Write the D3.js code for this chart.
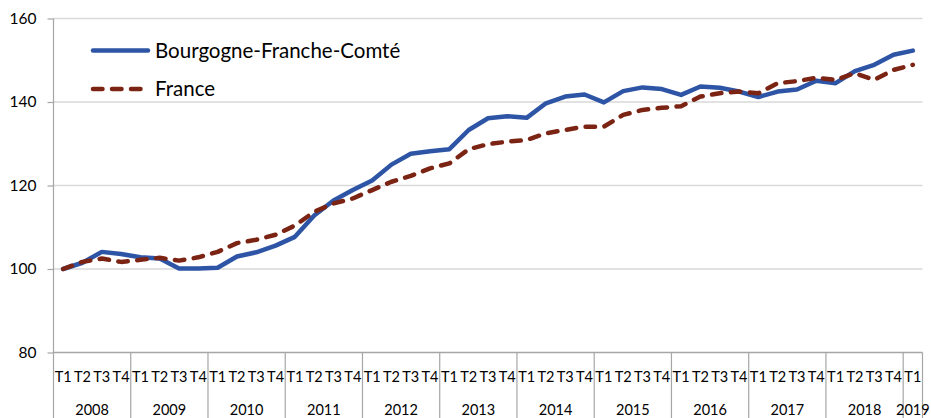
<!DOCTYPE html>
<html>
<head>
<meta charset="utf-8">
<script src="https://cdn.jsdelivr.net/npm/d3@7"></script>
<style>
  html, body { margin: 0; padding: 0; background: #fff; }
  svg { display: block; font-family: Lato, "Liberation Sans", sans-serif; }
</style>
</head>
<body>
<svg id="chart" width="931" height="418"></svg>
<script>
// ---- data ----
const years = [2008, 2009, 2010, 2011, 2012, 2013, 2014, 2015, 2016, 2017, 2018, 2019];
const quarters = ["T1", "T2", "T3", "T4"];
const lastYearQuarters = ["T1"];
const seriesNames = ["Bourgogne-Franche-Comté", "France"];
const bfc = [100, 101.5, 104.1, 103.6, 102.8, 102.5, 100.1, 100.1,
             100.3, 103.0, 104.0, 105.6, 107.7, 112.8, 116.4, 118.9,
             121.2, 125.0, 127.6, 128.2, 128.7, 133.3, 136.1, 136.6,
             136.2, 139.7, 141.3, 141.8, 139.9, 142.6, 143.5, 143.1,
             141.7, 143.7, 143.4, 142.5, 141.2, 142.5, 143.0, 145.1,
             144.5, 147.4, 148.9, 151.3, 152.3];
const france = [100, 101.7, 102.5, 101.7, 102.2, 102.7, 102.0, 102.8,
                104.1, 106.2, 107.0, 108.2, 110.4, 113.7, 115.7, 116.9,
                118.9, 120.9, 122.3, 124.1, 125.3, 128.7, 129.9, 130.5,
                130.9, 132.5, 133.3, 134.1, 134.1, 136.9, 138.1, 138.6,
                139.0, 141.3, 142.1, 142.5, 142.1, 144.5, 145.0, 145.8,
                145.3, 146.9, 145.3, 147.7, 148.9];
const yTicks = [80, 100, 120, 140, 160];

// ---- categories ----
const categories = years.flatMap(yr =>
  (yr === years[years.length - 1] ? lastYearQuarters : quarters).map(q => ({ year: yr, q })));

(function draw() {
  const W = 931, H = 418;
  const mLeft = 53.5, mRight = 922.5, mTop = 18.5, mBottom = 352.5;
  const colors = { bfc: "#2E55A5", france: "#7B2414" };

  const svg = d3.select("#chart");

  const x = d3.scaleBand().domain(d3.range(categories.length)).range([mLeft, mRight]).padding(0);
  const y = d3.scaleLinear().domain([80, 160]).range([mBottom, mTop]);
  const bw = x.bandwidth();

  // gridlines
  svg.append("g").selectAll("line")
    .data(yTicks.filter(t => t > 80))
    .join("line")
    .attr("x1", mLeft).attr("x2", mRight)
    .attr("y1", d => y(d)).attr("y2", d => y(d))
    .attr("stroke", "#d9d9d9").attr("stroke-width", 1.5);

  // y axis
  const yAxis = d3.axisLeft(y).tickValues(yTicks).tickSize(6).tickPadding(11).tickFormat(d3.format("d"));
  const gy = svg.append("g").attr("transform", `translate(${mLeft},0)`).call(yAxis);
  gy.select(".domain").remove();
  gy.selectAll(".tick line").attr("stroke", "#a6a6a6").attr("stroke-width", 1.2);
  gy.selectAll(".tick text").attr("font-size", 15.5).attr("fill", "#000")
    .attr("font-family", "Lato, 'Liberation Sans', sans-serif");

  // left vertical axis line extends through category area
  svg.append("line").attr("x1", mLeft).attr("x2", mLeft).attr("y1", mTop).attr("y2", H)
    .attr("stroke", "#a6a6a6").attr("stroke-width", 1.2);

  // x axis baseline
  svg.append("line").attr("x1", mLeft).attr("x2", mRight).attr("y1", mBottom).attr("y2", mBottom)
    .attr("stroke", "#a6a6a6").attr("stroke-width", 1.5);

  // year separators
  const yearStarts = years.map(yr => categories.findIndex(c => c.year === yr));
  const sepXs = yearStarts.slice(1).map(i => x(i)).concat([mRight]);
  svg.append("g").selectAll("line").data(sepXs).join("line")
    .attr("x1", d => d).attr("x2", d => d).attr("y1", mBottom).attr("y2", H)
    .attr("stroke", "#a6a6a6").attr("stroke-width", 1.2);

  // quarter labels
  svg.append("g").selectAll("text").data(categories).join("text")
    .attr("x", (d, i) => x(i) + bw / 2).attr("y", 381.5)
    .attr("text-anchor", "middle").attr("font-size", 14.5).attr("fill", "#000")
    .text(d => d.q);

  // year labels
  const yearG = svg.append("g");
  years.forEach((yr, k) => {
    const i0 = yearStarts[k];
    const i1 = k < years.length - 1 ? yearStarts[k + 1] : categories.length;
    const cx = (x(i0) + (i1 < categories.length ? x(i1) : mRight)) / 2;
    const t = yearG.append("text").attr("x", cx).attr("y", 415)
      .attr("text-anchor", "middle").attr("font-size", 14.5).attr("fill", "#000").text(yr);
    const w = t.node().getComputedTextLength();
    if (cx + w / 2 > W - 1) t.attr("x", W - 1 - w / 2);
  });

  // lines
  const line = d3.line().x((d, i) => x(i) + bw / 2).y(d => y(d));
  svg.append("path").datum(bfc).attr("d", line)
    .attr("fill", "none").attr("stroke", colors.bfc).attr("stroke-width", 4.5)
    .attr("stroke-linejoin", "round").attr("stroke-linecap", "round");
  svg.append("path").datum(france).attr("d", line)
    .attr("fill", "none").attr("stroke", colors.france).attr("stroke-width", 4.5)
    .attr("stroke-linejoin", "round").attr("stroke-linecap", "round")
    .attr("stroke-dasharray", "9.5,9.5");

  // legend
  const legend = svg.append("g");
  const legendItems = [
    { name: seriesNames[0], color: colors.bfc, dash: null, ly: 50.5 },
    { name: seriesNames[1], color: colors.france, dash: "9.5,9.5", ly: 89 }
  ];
  legendItems.forEach(it => {
    const l = legend.append("line").attr("x1", 93).attr("x2", 148).attr("y1", it.ly).attr("y2", it.ly)
      .attr("stroke", it.color).attr("stroke-width", 4.5).attr("stroke-linecap", "round");
    if (it.dash) l.attr("stroke-dasharray", it.dash).attr("x2", 141);
    legend.append("text").attr("x", 155).attr("y", it.ly + 7)
      .attr("font-size", 20.5).attr("fill", "#000").text(it.name);
  });
})();
</script>
</body>
</html>
